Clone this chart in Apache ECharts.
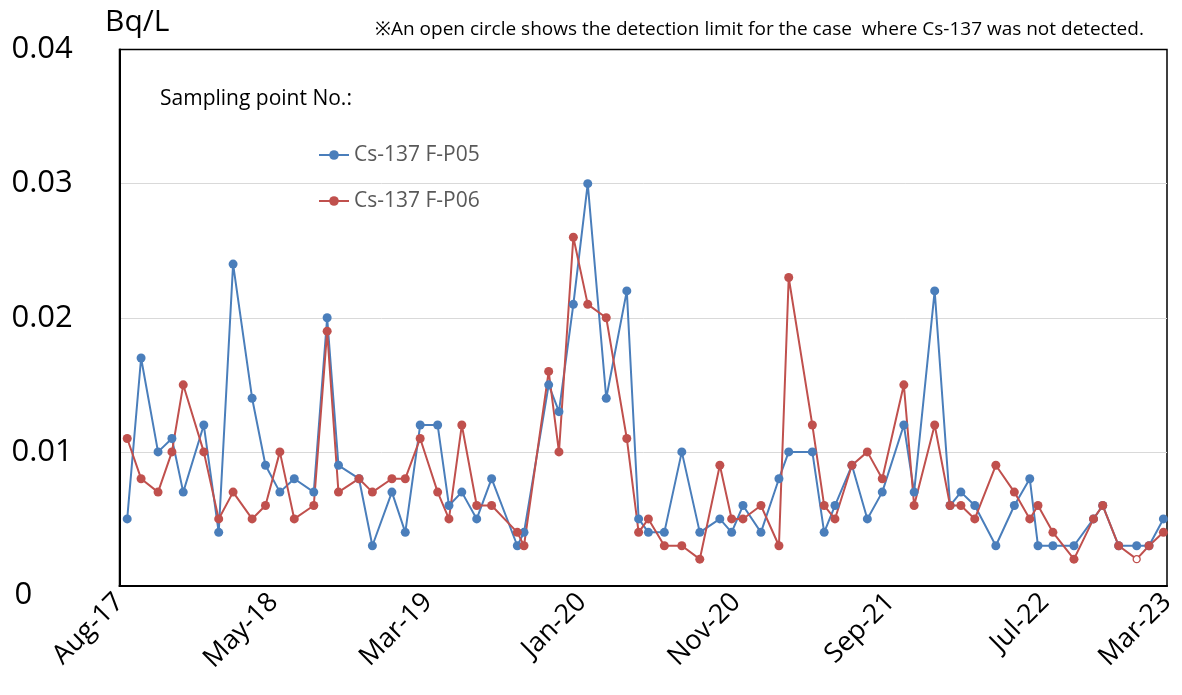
<!DOCTYPE html>
<html>
<head>
<meta charset="utf-8">
<script src="https://cdn.jsdelivr.net/npm/echarts@6/dist/echarts.min.js"></script>
<style>
  html, body { margin: 0; padding: 0; background: #fff; }
  #chart { width: 1182px; height: 695px; }
</style>
</head>
<body>
<div id="chart"></div>
<script>
// sampling dates
const sampleDates = [
  '2017-08-16', '2017-09-12', '2017-10-15', '2017-11-11', '2017-12-03', '2018-01-12', '2018-02-10', '2018-03-10',
  '2018-04-16', '2018-05-12', '2018-06-09', '2018-07-07', '2018-08-14', '2018-09-09', '2018-10-01', '2018-11-10',
  '2018-12-06', '2019-01-13', '2019-02-08', '2019-03-09', '2019-04-12', '2019-05-04', '2019-05-29', '2019-06-27',
  '2019-07-26', '2019-09-14', '2019-09-27', '2019-11-14', '2019-12-04', '2020-01-01', '2020-01-29', '2020-03-05',
  '2020-04-14', '2020-05-07', '2020-05-26', '2020-06-26', '2020-07-30', '2020-09-03', '2020-10-12', '2020-11-04',
  '2020-11-26', '2020-12-31', '2021-02-04', '2021-02-23', '2021-04-10', '2021-05-03', '2021-05-24', '2021-06-26',
  '2021-07-26', '2021-08-24', '2021-10-05', '2021-10-25', '2021-12-04', '2022-01-03', '2022-01-24', '2022-02-20',
  '2022-04-02', '2022-05-08', '2022-06-07', '2022-06-23', '2022-07-22', '2022-09-01', '2022-10-09', '2022-10-27',
  '2022-11-27', '2023-01-01', '2023-01-25', '2023-02-22'
]
const p05 = [
  0.005, 0.017, 0.010, 0.011, 0.007, 0.012, 0.004, 0.024,
  0.014, 0.009, 0.007, 0.008, 0.007, 0.020, 0.009, 0.008,
  0.003, 0.007, 0.004, 0.012, 0.012, 0.006, 0.007, 0.005,
  0.008, 0.003, 0.004, 0.015, 0.013, 0.021, 0.030, 0.014,
  0.022, 0.005, 0.004, 0.004, 0.010, 0.004, 0.005, 0.004,
  0.006, 0.004, 0.008, 0.010, 0.010, 0.004, 0.006, 0.009,
  0.005, 0.007, 0.012, 0.007, 0.022, 0.006, 0.007, 0.006,
  0.003, 0.006, 0.008, 0.003, 0.003, 0.003, 0.005, 0.006,
  0.003, 0.003, 0.003, 0.005
]
const p06 = [
  0.011, 0.008, 0.007, 0.010, 0.015, 0.010, 0.005, 0.007,
  0.005, 0.006, 0.010, 0.005, 0.006, 0.019, 0.007, 0.008,
  0.007, 0.008, 0.008, 0.011, 0.007, 0.005, 0.012, 0.006,
  0.006, 0.004, 0.003, 0.016, 0.010, 0.026, 0.021, 0.020,
  0.011, 0.004, 0.005, 0.003, 0.003, 0.002, 0.009, 0.005,
  0.005, 0.006, 0.003, 0.023, 0.012, 0.006, 0.005, 0.009,
  0.010, 0.008, 0.015, 0.006, 0.012, 0.006, 0.006, 0.005,
  0.009, 0.007, 0.005, 0.006, 0.004, 0.002, 0.005, 0.006,
  0.003, 0.002, 0.003, 0.004
]
// not detected -> detection limit drawn as open circle
const p06NotDetected = ['2023-01-01']

const xTickLabels = ['Aug-17', 'May-18', 'Mar-19', 'Jan-20', 'Nov-20', 'Sep-21', 'Jul-22', 'Mar-23']
const yTickLabels = ['0', '0.01', '0.02', '0.03', '0.04']

const axisStart = '2017-08-01'
const axisEnd = '2023-03-01'
const tickDays = 300

const blue = '#4A7EBB'
const red = '#C0504D'

// days counted from the start of the axis (Excel style date axis)
function dayOf(s) {
  const a = s.split('-').map(Number)
  const b = axisStart.split('-').map(Number)
  return (Date.UTC(a[0], a[1] - 1, a[2]) - Date.UTC(b[0], b[1] - 1, b[2])) / 86400000
}
const axisMax = dayOf(axisEnd)

const dataP05 = sampleDates.map((d, i) => [dayOf(d), p05[i]])
const dataP06 = sampleDates.map((d, i) => {
  if (p06NotDetected.indexOf(d) >= 0) {
    return {
      value: [dayOf(d), p06[i]],
      symbolSize: 7,
      itemStyle: { color: '#fff', borderColor: red, borderWidth: 1.3 }
    }
  }
  return [dayOf(d), p06[i]]
})

const chart = echarts.init(document.getElementById('chart'))
chart.setOption({
  animation: false,
  textStyle: { fontFamily: 'Open Sans' },
  title: [
    { text: 'Bq/L', left: 100, top: 2, textStyle: { fontSize: 30, fontWeight: 'normal', color: '#000' } },
    {
      text: '※An open circle shows the detection limit for the case  where Cs-137 was not detected.',
      left: 370, top: 15,
      textStyle: { fontSize: 19, fontWeight: 'normal', color: '#000' }
    },
    { text: 'Sampling point No.:', left: 155, top: 84, textStyle: { fontSize: 21, fontWeight: 'normal', color: '#000' } }
  ],
  legend: {
    orient: 'vertical',
    left: 313,
    top: 136,
    itemWidth: 30,
    itemHeight: 12,
    itemGap: 18,
    textStyle: { fontSize: 21, color: '#595959', lineHeight: 28 },
    data: ['Cs-137 F-P05', 'Cs-137 F-P06']
  },
  grid: {
    left: 119.5,
    right: 15,
    top: 49.5,
    bottom: 109,
    show: true,
    borderColor: '#000',
    borderWidth: 1.5
  },
  xAxis: {
    type: 'value',
    min: 0,
    max: axisMax,
    interval: tickDays,
    splitLine: { show: false },
    axisTick: { show: false },
    axisLine: { lineStyle: { color: '#000', width: 2 } },
    axisLabel: {
      rotate: 45,
      margin: 12,
      fontSize: 27,
      color: '#000',
      formatter: (v) => v >= axisMax ? xTickLabels[xTickLabels.length - 1] : xTickLabels[Math.round(v / tickDays)]
    }
  },
  yAxis: {
    type: 'value',
    min: 0,
    max: 0.04,
    interval: 0.01,
    axisLine: { show: true, lineStyle: { color: '#000', width: 2 } },
    axisTick: { show: false },
    splitLine: { showMinLine: false, showMaxLine: false, lineStyle: { color: '#D9D9D9', width: 1 } },
    axisLabel: {
      align: 'left',
      margin: 108,
      fontSize: 31,
      color: '#000',
      formatter: (v) => {
        const t = yTickLabels[Math.round(v / 0.01)]
        return v === 0 ? '{z|' + t + '}' : t
      },
      rich: { z: { fontSize: 31, padding: [18, 0, 0, 3] } }
    }
  },
  series: [
    {
      name: 'Cs-137 F-P05',
      type: 'line',
      data: dataP05,
      symbol: 'circle',
      symbolSize: 9,
      lineStyle: { color: blue, width: 2 },
      itemStyle: { color: blue }
    },
    {
      name: 'Cs-137 F-P06',
      type: 'line',
      data: dataP06,
      symbol: 'circle',
      symbolSize: 9,
      lineStyle: { color: red, width: 2 },
      itemStyle: { color: red }
    }
  ]
})
</script>
</body>
</html>
